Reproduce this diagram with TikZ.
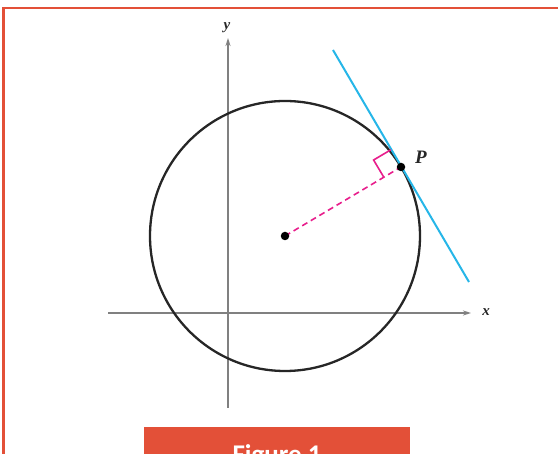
\documentclass[tikz,border=0pt]{standalone}
\usepackage{fontspec}
\setmainfont{Liberation Serif}
\newfontfamily\figfont{Carlito}
\usetikzlibrary{arrows.meta}
\definecolor{framered}{RGB}{227,80,56}
\definecolor{tancyan}{RGB}{38,182,232}
\definecolor{radpink}{RGB}{232,30,140}
\definecolor{axgray}{RGB}{128,128,128}
\begin{document}
\begin{tikzpicture}[x=1pt,y=-1pt,
  axisline/.style={draw=axgray,line width=1.4pt,-{Stealth[length=8pt,width=5pt]}},
  lbl/.style={text=black!85, inner sep=0pt},
  dotnode/.style={circle,fill=black,inner sep=0pt,minimum size=8.5pt},
  tangentline/.style={draw=tancyan,line width=2pt},
  radiusline/.style={draw=radpink,line width=1.6pt,dash pattern=on 6pt off 4pt},
  rightmark/.style={draw=radpink,line width=1.6pt},
  circleline/.style={draw=black!85,line width=2.3pt},
  frameline/.style={draw=framered,line width=2.8pt}
]
\useasboundingbox (0,0) rectangle (558,454);
\clip (0,0) rectangle (558,454);
\fill[white] (0,0) rectangle (558,454);
% frame
\draw[frameline] (3.7,460) -- (3.7,8) -- (562,8);
% axes
\coordinate (xs) at (108,313);
\coordinate (xe) at (471,313);
\coordinate (ys) at (228,408);
\coordinate (ye) at (228,38);
\draw[axisline] (xs) -- (xe);
\draw[axisline] (ys) -- (ye);
\node[lbl,font=\bfseries\itshape\fontsize{15}{17}\selectfont] (xlab) at (486,312) {x};
\node[lbl,font=\bfseries\itshape\fontsize{15}{17}\selectfont] (ylab) at (227,28) {y};
% circle
\coordinate (O) at (285,236);
\draw[circleline] (O) circle[radius=135];
% tangent
\coordinate (P) at (401,167);
\coordinate (T1) at (333,50);
\coordinate (T2) at (469,282);
\draw[tangentline] (T1) -- (T2);
% radius and right angle mark
\draw[radiusline] (O) -- (P);
\coordinate (A) at (390.8,149.8);
\coordinate (B) at (373.6,160.0);
\coordinate (C) at (383.8,177.2);
\draw[rightmark] (A) -- (B) -- (C);
\node[dotnode] (Odot) at (O) {};
\node[dotnode] (Pdot) at (P) {};
\node[lbl,font=\bfseries\itshape\fontsize{19}{21}\selectfont] (Plab) at (421,157) {P};
% figure caption box
\fill[framered] (144,427) rectangle (410,470);
\node[anchor=base,text=white,font=\figfont\bfseries\fontsize{27}{30}\selectfont,inner sep=0pt] (cap) at (277,464) {Figure 1};
\end{tikzpicture}
\end{document}
